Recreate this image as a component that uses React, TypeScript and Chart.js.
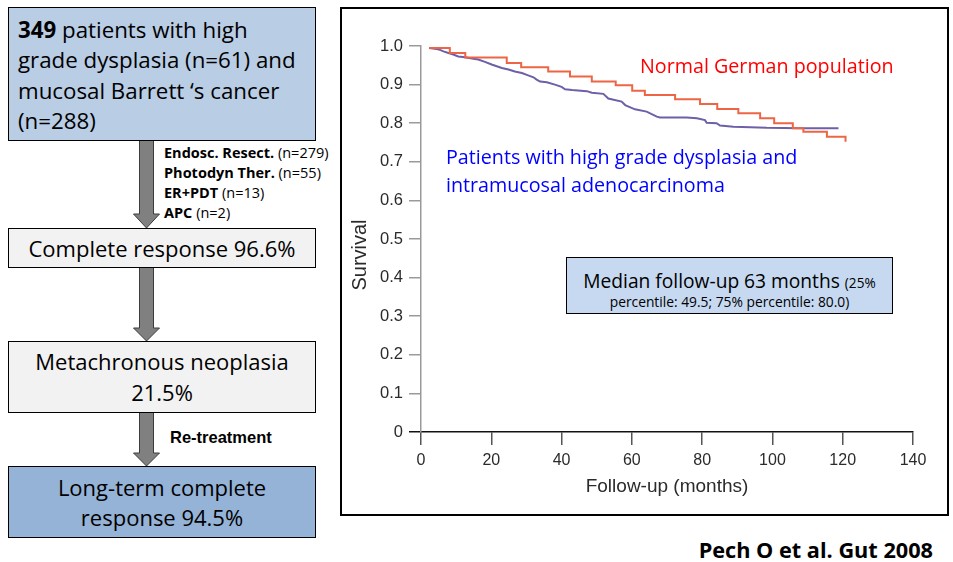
import React, { useEffect, useRef } from "react";
import { Chart, registerables } from "chart.js";

Chart.register(...registerables);

// Normal German population (step curve): months where each level starts, and the level
const germanMonths = [2.4, 8.2, 12.6, 24.4, 28.5, 36.2, 42.4, 48.6, 55.4, 60.1, 63.7, 72.3, 79.4, 84.3, 90.3, 96.5, 100.5, 105.8, 108.8, 115.5, 120.8, 120.8];
const germanSurvival = [0.995, 0.982, 0.97, 0.956, 0.945, 0.934, 0.921, 0.908, 0.898, 0.884, 0.873, 0.862, 0.85, 0.837, 0.826, 0.813, 0.8, 0.787, 0.778, 0.765, 0.765, 0.752];

// Patients with HGD and intramucosal adenocarcinoma
const patientMonths = [2.3, 4.5, 5.4, 6.4, 7.8, 9.2, 10.6, 12.5, 14.9, 16.3, 18.2, 20.1, 23.0, 24.9, 26.7, 28.7, 30.5, 32.0, 32.9, 33.9, 35.8, 38.1, 40.0, 41.0, 43.0, 47.2, 48.6, 51.9, 53.3, 57.1, 58.1, 60.9, 64.2, 67.1, 68.0, 75.6, 78.5, 80.8, 81.3, 84.1, 85.1, 88.9, 98.4, 107.9, 118.8];
const patientSurvival = [0.995, 0.992, 0.99, 0.986, 0.982, 0.978, 0.973, 0.971, 0.967, 0.965, 0.959, 0.952, 0.943, 0.939, 0.934, 0.93, 0.924, 0.919, 0.913, 0.908, 0.906, 0.9, 0.894, 0.888, 0.886, 0.883, 0.879, 0.876, 0.864, 0.856, 0.847, 0.836, 0.83, 0.817, 0.815, 0.815, 0.813, 0.808, 0.801, 0.8, 0.794, 0.791, 0.788, 0.787, 0.787];

const xMin = 0;
const xMax = 140;
const xStep = 20;
const yMin = 0;
const yMax = 1;
const yStep = 0.1;

const xTitle = "Follow-up (months)";
const yTitle = "Survival";

const AXIS_FONT = '"Liberation Sans", Arial, Helvetica, sans-serif';
const SLIDE_FONT = '"Open Sans", "Noto Sans", sans-serif';

function SurvivalChart() {
  const ref = useRef<HTMLCanvasElement>(null);

  useEffect(() => {
    if (!ref.current) return;
    const yTitlePlugin = {
      id: "yTitleLabel",
      afterDraw(chart: any) {
        const { ctx, chartArea } = chart;
        ctx.save();
        ctx.translate(chartArea.left - 61, (chartArea.top + chartArea.bottom) / 2 + 16);
        ctx.rotate(-Math.PI / 2);
        ctx.font = `20px ${AXIS_FONT}`;
        ctx.fillStyle = "#2b2b2b";
        ctx.textAlign = "center";
        ctx.textBaseline = "middle";
        ctx.fillText(yTitle, 0, 0);
        ctx.restore();
      },
    };

    const chart = new Chart(ref.current, {
      type: "line",
      data: {
        datasets: [
          {
            label: "Normal German population",
            data: germanMonths.map((m, i) => ({ x: m, y: germanSurvival[i] })),
            borderColor: "#ee6545",
            borderWidth: 2,
            stepped: "before",
            pointRadius: 0,
            fill: false,
          },
          {
            label: "Patients with high grade dysplasia and intramucosal adenocarcinoma",
            data: patientMonths.map((m, i) => ({ x: m, y: patientSurvival[i] })),
            borderColor: "#6d5fa8",
            borderWidth: 2,
            pointRadius: 0,
            tension: 0,
            fill: false,
          },
        ],
      },
      options: {
        responsive: false,
        animation: false,
        layout: { padding: { top: 38, right: 34, left: 0, bottom: 0 } },
        plugins: {
          legend: { display: false },
          tooltip: { enabled: false },
        },
        scales: {
          x: {
            type: "linear",
            min: xMin,
            max: xMax,
            ticks: {
              stepSize: xStep,
              padding: 6,
              maxRotation: 0,
              color: "#2b2b2b",
              font: { family: AXIS_FONT, size: 16 },
            },
            grid: {
              drawOnChartArea: false,
              drawTicks: true,
              tickLength: 13,
              color: "#555",
              lineWidth: 1.5,
            },
            border: { display: true, color: "#111", width: 1.5 },
            title: {
              display: true,
              text: xTitle,
              color: "#2b2b2b",
              font: { family: AXIS_FONT, size: 19 },
              padding: { top: 0, bottom: 17 },
            },
            afterFit: (s: any) => {
              s.height = 83;
            },
          },
          y: {
            type: "linear",
            min: yMin,
            max: yMax,
            ticks: {
              stepSize: yStep,
              padding: 6,
              color: "#2b2b2b",
              font: { family: AXIS_FONT, size: 16.5 },
              callback: (v: any) => (Number(v) === 0 ? "0" : Number(v).toFixed(1)),
            },
            grid: {
              drawOnChartArea: false,
              drawTicks: true,
              tickLength: 12,
              color: (c: any) => (c.tick && c.tick.value === 0 ? "#111" : "#9a9a9a"),
              lineWidth: 1.5,
            },
            border: { display: true, color: "#9a9a9a", width: 1.5 },
            afterFit: (s: any) => {
              s.width = 79;
            },
          },
        },
      },
      plugins: [yTitlePlugin],
    });
    return () => chart.destroy();
  }, []);

  return (
    <canvas
      ref={ref}
      width={605}
      height={507}
      style={{ position: "absolute", left: 342, top: 8, width: 605, height: 507 }}
    />
  );
}

const boxBase: React.CSSProperties = {
  position: "absolute",
  left: 8,
  width: 308,
  boxSizing: "border-box",
  border: "1px solid #000",
  fontFamily: SLIDE_FONT,
  fontSize: 22,
  color: "#000",
  whiteSpace: "nowrap",
};

const centered: React.CSSProperties = {
  display: "flex",
  flexDirection: "column",
  alignItems: "center",
  justifyContent: "center",
  textAlign: "center",
  lineHeight: "31px",
};

function Arrow({ top, bottom, head }: { top: number; bottom: number; head: number }) {
  const cx = 146.5;
  const sw = 7;
  const hw = 13;
  const pts = [
    [cx - sw, top],
    [cx + sw, top],
    [cx + sw, bottom - head],
    [cx + hw, bottom - head],
    [cx, bottom],
    [cx - hw, bottom - head],
    [cx - sw, bottom - head],
  ]
    .map((p) => p.join(","))
    .join(" ");
  return <polygon points={pts} fill="#808080" stroke="#3c3c3c" strokeWidth={1} />;
}

export default function App() {
  return (
    <div
      style={{
        position: "absolute",
        left: 0,
        top: 0,
        width: 953,
        height: 562,
        background: "#fff",
        overflow: "hidden",
      }}
    >
      <svg width={953} height={562} style={{ position: "absolute", left: 0, top: 0 }}>
        <Arrow top={140} bottom={228} head={14} />
        <Arrow top={267} bottom={341} head={13} />
        <Arrow top={412} bottom={466} head={13} />
      </svg>

      {/* Flow chart */}
      <div
        style={{
          ...boxBase,
          top: 7,
          height: 134,
          background: "#b9cde5",
          padding: "7px 0 0 9px",
          fontSize: 22.3,
          lineHeight: "30.3px",
        }}
      >
        <b>349</b> patients with high
        <br />
        grade dysplasia (n=61) and
        <br />
        mucosal Barrett ‘s cancer
        <br />
        (n=288)
      </div>

      <div
        style={{
          position: "absolute",
          left: 164,
          top: 143,
          fontFamily: SLIDE_FONT,
          fontSize: 14.5,
          lineHeight: "20px",
          color: "#000",
          whiteSpace: "nowrap",
        }}
      >
        <div>
          <b>Endosc. Resect.</b> (n=279)
        </div>
        <div>
          <b>Photodyn Ther.</b> (n=55)
        </div>
        <div>
          <b>ER+PDT</b> (n=13)
        </div>
        <div>
          <b>APC</b> (n=2)
        </div>
      </div>

      <div style={{ ...boxBase, ...centered, top: 228, height: 40, background: "#f2f2f2" }}>
        Complete response 96.6%
      </div>

      <div style={{ ...boxBase, ...centered, top: 341, height: 72, background: "#f2f2f2" }}>
        <div>Metachronous neoplasia</div>
        <div>21.5%</div>
      </div>

      <div
        style={{
          position: "absolute",
          left: 170,
          top: 427,
          fontFamily: AXIS_FONT,
          fontWeight: "bold",
          fontSize: 16.5,
          lineHeight: "20px",
          color: "#000",
          whiteSpace: "nowrap",
        }}
      >
        Re-treatment
      </div>

      <div style={{ ...boxBase, ...centered, top: 466, height: 72, background: "#95b3d7", lineHeight: "30px" }}>
        <div>Long-term complete</div>
        <div>response 94.5%</div>
      </div>

      {/* Chart frame */}
      <div
        style={{
          position: "absolute",
          left: 340,
          top: 7,
          width: 609,
          height: 509,
          boxSizing: "border-box",
          border: "2px solid #000",
        }}
      />

      <SurvivalChart />

      <div
        style={{
          position: "absolute",
          left: 640,
          top: 54,
          fontFamily: SLIDE_FONT,
          fontSize: 19.7,
          lineHeight: "24px",
          color: "#ff0000",
          whiteSpace: "nowrap",
        }}
      >
        Normal German population
      </div>

      <div
        style={{
          position: "absolute",
          left: 446,
          top: 143,
          fontFamily: SLIDE_FONT,
          fontSize: 19.7,
          lineHeight: "28px",
          color: "#0000ff",
          whiteSpace: "nowrap",
        }}
      >
        Patients with high grade dysplasia and
        <br />
        intramucosal adenocarcinoma
      </div>

      <div
        style={{
          position: "absolute",
          left: 566,
          top: 257,
          width: 327,
          height: 57,
          boxSizing: "border-box",
          border: "1px solid #000",
          background: "#c6d9f1",
          fontFamily: SLIDE_FONT,
          color: "#000",
          textAlign: "center",
          paddingTop: 12,
          whiteSpace: "nowrap",
        }}
      >
        <div style={{ fontSize: 19.2, lineHeight: "22px" }}>
          Median follow-up 63 months <span style={{ fontSize: 13.6 }}>(25%</span>
        </div>
        <div style={{ fontSize: 13.8, lineHeight: "15px" }}>percentile: 49.5; 75% percentile: 80.0)</div>
      </div>

      <div
        style={{
          position: "absolute",
          right: 20,
          top: 537,
          fontFamily: SLIDE_FONT,
          fontWeight: "bold",
          fontSize: 21.7,
          lineHeight: "26px",
          color: "#000",
          whiteSpace: "nowrap",
        }}
      >
        Pech O et al. Gut 2008
      </div>
    </div>
  );
}
